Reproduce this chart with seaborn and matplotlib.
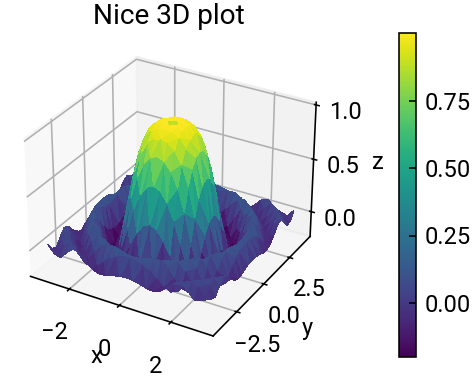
import numpy as np
import pandas as pd
import matplotlib
matplotlib.use("Agg")
import matplotlib.pyplot as plt
import seaborn as sns

title = "Nice 3D plot"
half_x = [0.0, 0.26, 0.52, 0.79, 1.05, 1.31, 1.57, 1.83, 2.09, 2.36, 2.62, 2.88, 3.14]
half_y = [0.0, 0.33, 0.67, 1.0, 1.33, 1.67, 2.0, 2.33, 2.67, 3.0, 3.33, 3.67, 4.0]
quarter_z = [
    [.65, .999, .988, .937, .811, .578, .253, -.064, -.216, -.120, .079, .109, -.044],
    [.999, .997, .981, .923, .789, .549, .224, -.082, -.217, -.109, .087, .103, -.050],
    [.988, .981, .951, .873, .715, .460, .142, -.130, -.214, -.076, .106, .088, -.064],
    [.937, .923, .873, .765, .578, .311, .019, -.186, -.191, -.018, .124, .056, -.083],
    [.811, .789, .715, .578, .370, .116, -.115, -.217, -.131, .055, .125, .005, -.091],
    [.578, .549, .460, .311, .116, -.082, -.206, -.185, -.030, .115, .088, -.055, -.071],
    [.253, .224, .142, .019, -.115, -.206, -.198, -.076, .079, .123, .013, -.091, -.020],
    [-.064, -.082, -.130, -.186, -.217, -.185, -.076, .063, .128, .056, -.069, -.068, .046],
    [-.216, -.217, -.214, -.191, -.131, -.030, .079, .128, .069, -.050, -.087, .009, .070],
    [-.120, -.109, -.076, -.018, .055, .115, .123, .056, -.050, -.089, -.014, .069, .018],
    [.079, .087, .106, .124, .125, .088, .013, -.069, -.087, -.014, .067, .035, -.051],
    [.109, .103, .088, .056, .005, -.055, -.091, -.068, .009, .069, .035, -.046, -.035],
    [-.044, -.050, -.064, -.083, -.091, -.071, -.020, .046, .070, .018, -.051, -.035, .039],
]

plt.rcParams["font.family"] = ["Roboto", "DejaVu Sans"]
plt.rcParams["font.size"] = 11.8

hx = np.array(half_x)
hy = np.array(half_y)
q = np.array(quarter_z)
xs = np.concatenate([-hx[:0:-1], hx])
ys = np.concatenate([-hy[:0:-1], hy])
idx = np.abs(np.arange(-12, 13))
X, Y = np.meshgrid(xs, ys)
df = pd.DataFrame({"x": X.ravel(), "y": Y.ravel(), "z": q[np.ix_(idx, idx)].ravel()})

W, H = 473, 380
fig = plt.figure(figsize=(W / 144, H / 144), dpi=144)
L = 325
ax = fig.add_axes([(168.5 - L / 2) / W, 1 - (194 + L / 2) / H, L / W, L / H], projection="3d")
surf = ax.plot_trisurf(df.x, df.y, df.z, cmap=sns.color_palette("viridis", as_cmap=True),
                       linewidth=0, antialiased=False)
surf.set_clim(-0.2, 1.0)
ax.set_xticks([-2, 0, 2])
ax.set_yticks([-2.5, 0, 2.5])
ax.set_zticks([0, 0.5, 1.0])
for lab in ax.zaxis.get_ticklabels():
    lab.set_va("top")
ax.tick_params(axis="z", pad=1)
ax.tick_params(axis="y", pad=1.5)
ax.set_xlabel("x", labelpad=-3)
ax.set_ylabel("y", labelpad=-1)
ax.set_zlabel("z", labelpad=-1)
ax.set_title(title, fontsize=14, pad=3.5)

cax = fig.add_axes([399 / W, 1 - 357 / H, 17 / W, 324 / H])
cb = fig.colorbar(surf, cax=cax, ticks=[0, 0.25, 0.5, 0.75])
cb.ax.set_yticklabels(["0.00", "0.25", "0.50", "0.75"])
cb.ax.tick_params(direction="in", pad=4.5)
fig.savefig("out.png", dpi=144)
